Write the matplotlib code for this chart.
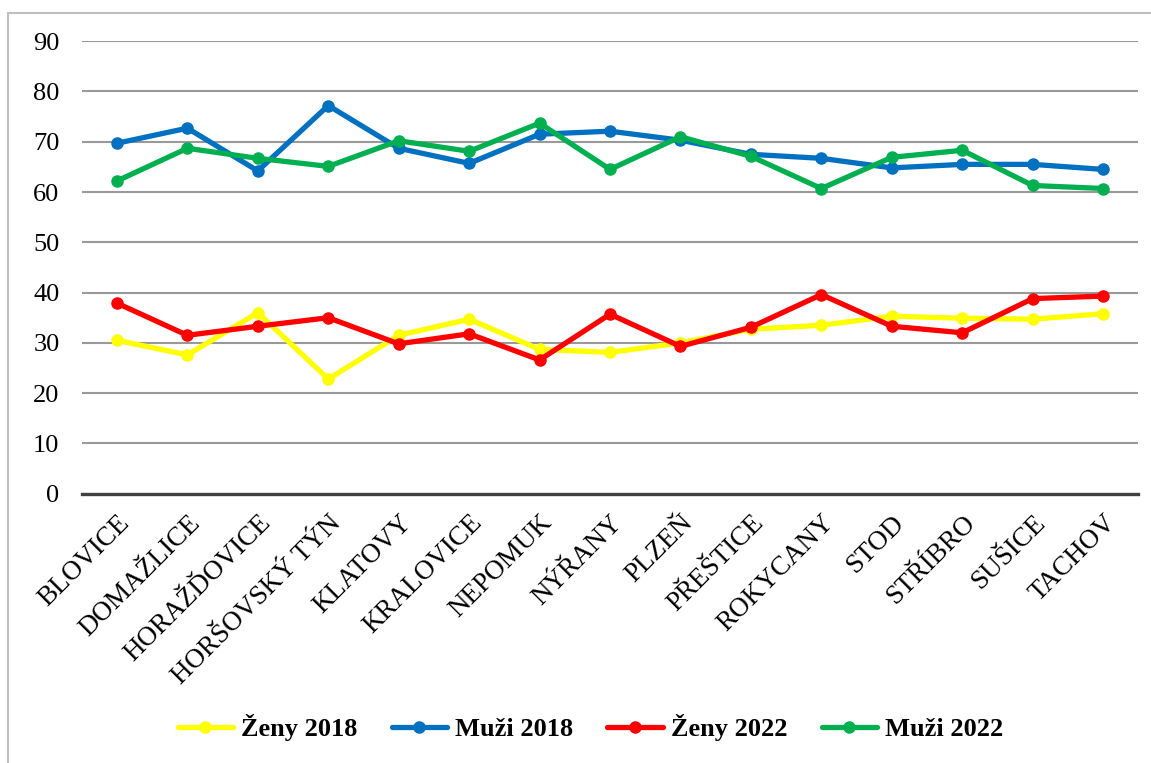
import matplotlib
matplotlib.use("Agg")
import matplotlib.pyplot as plt
from matplotlib.patches import Rectangle

mesta = ["BLOVICE", "DOMAŽLICE", "HORAŽĎOVICE", "HORŠOVSKÝ TÝN", "KLATOVY",
         "KRALOVICE", "NEPOMUK", "NÝŘANY", "PLZEŇ", "PŘEŠTICE", "ROKYCANY",
         "STOD", "STŘÍBRO", "SUŠICE", "TACHOV"]

zeny_2018 = [30.5, 27.6, 36.0, 22.8, 31.5, 34.7, 28.7, 28.1, 30.0, 32.7, 33.5, 35.3, 34.9, 34.7, 35.8]
muzi_2018 = [69.7, 72.7, 64.2, 77.2, 68.7, 65.7, 71.5, 72.1, 70.3, 67.5, 66.7, 64.8, 65.5, 65.5, 64.5]
zeny_2022 = [37.9, 31.5, 33.3, 35.0, 29.8, 31.8, 26.6, 35.7, 29.3, 33.1, 39.6, 33.3, 32.0, 38.8, 39.3]
muzi_2022 = [62.2, 68.7, 66.7, 65.1, 70.2, 68.1, 73.7, 64.5, 71.0, 67.1, 60.7, 66.9, 68.3, 61.3, 60.7]

rady = [("Ženy 2018", zeny_2018, "#FFFF00"),
        ("Muži 2018", muzi_2018, "#0070C0"),
        ("Ženy 2022", zeny_2022, "#FF0000"),
        ("Muži 2022", muzi_2022, "#00B050")]

plt.rcParams['font.family'] = ['Liberation Serif', 'DejaVu Serif']

fig = plt.figure(figsize=(11.51, 7.63), dpi=100)
ax = fig.add_axes([0.071, 0.353, 0.918, 0.593])

# rámeček kolem grafu
fig.patches.append(Rectangle((8 / 1151, -0.1), 1.2, 1 - 13 / 763 + 0.1,
                             transform=fig.transFigure, fill=False,
                             edgecolor="#BFBFBF", lw=1.5))

x = list(range(len(mesta)))
for nazev, hodnoty, barva in rady:
    ax.plot(x, hodnoty, color=barva, lw=3.8, marker="o", markersize=8,
            label=nazev, solid_capstyle="round", zorder=3)

ax.set_xlim(-0.5, len(mesta) - 0.5)
ax.set_ylim(0, 90)
ax.set_yticks(range(0, 91, 10))
ax.yaxis.grid(True, color="#999999", lw=1.5)
ax.set_axisbelow(True)
for s in ["top", "right", "left"]:
    ax.spines[s].set_visible(False)
ax.spines["bottom"].set_color("#404040")
ax.spines["bottom"].set_linewidth(2.4)
ax.spines["bottom"].set_zorder(2)

ax.set_xticks(x)
ax.set_xticklabels(mesta, rotation=45, ha="right", rotation_mode="anchor", fontsize=19.5)
ax.tick_params(axis="y", length=0, pad=16, labelsize=19)
ax.tick_params(axis="x", length=0, pad=12)

fig.legend(loc="center", bbox_to_anchor=(0.513, 0.046), ncol=4, frameon=False,
           prop={"weight": "bold", "size": 19}, handlelength=2.1,
           handletextpad=0.3, columnspacing=1.3)

fig.savefig("out.png", dpi=100)
